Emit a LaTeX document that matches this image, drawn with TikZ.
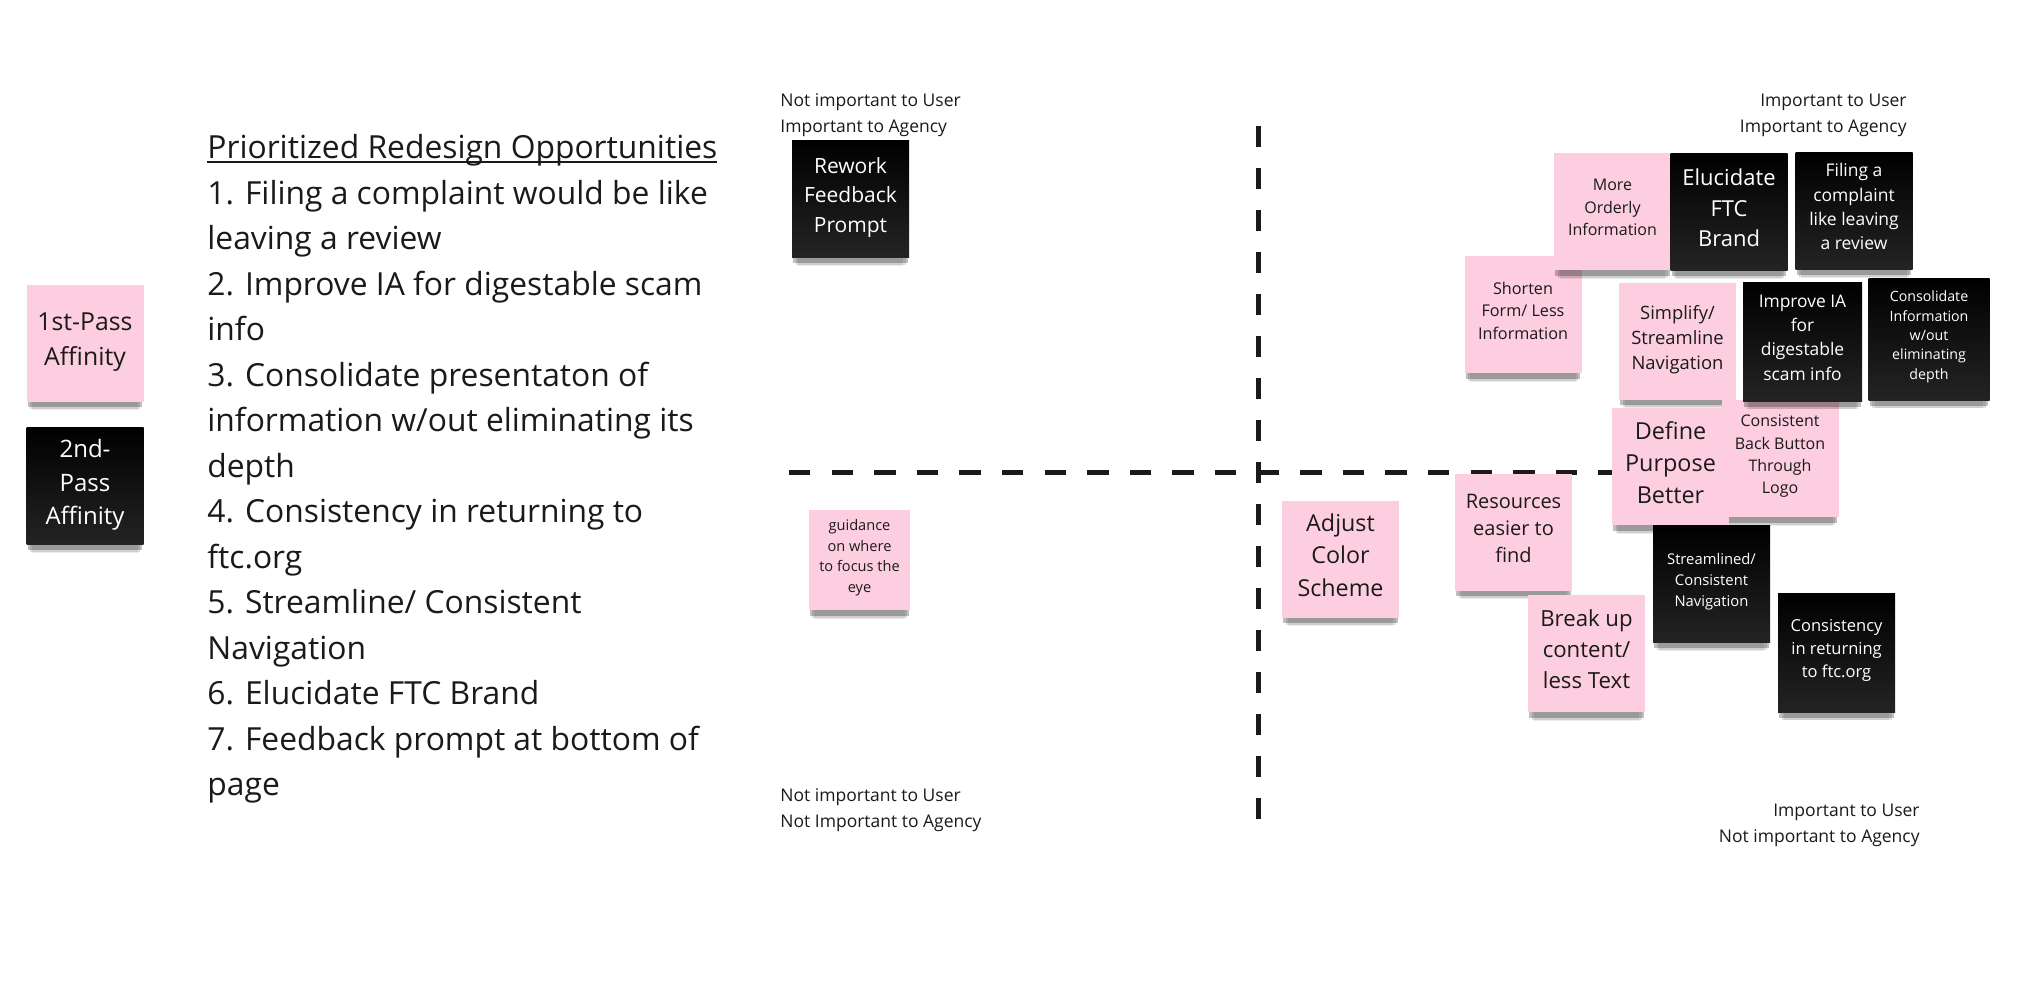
\documentclass[tikz,border=0pt]{standalone}
\usepackage{fontspec}
\setmainfont{Open Sans}
\usetikzlibrary{shadows}
\definecolor{stickypink}{RGB}{253,206,224}
\definecolor{inkgray}{RGB}{26,26,26}
\newcommand{\titleline}[1]{\sbox0{#1}\rlap{\rule[-2.3pt]{\wd0}{1.1pt}}\usebox0}
\tikzset{
  note/.style={minimum width=58.5pt, minimum height=58.5pt, inner sep=0pt, align=center, text depth=0.4em,
    drop shadow={shadow scale=0.9, shadow xshift=0pt, shadow yshift=-8pt, opacity=0.08, fill=black},
    drop shadow={shadow scale=0.94, shadow xshift=0pt, shadow yshift=-6pt, opacity=0.12, fill=black},
    drop shadow={shadow scale=0.98, shadow xshift=0pt, shadow yshift=-3.5pt, opacity=0.25, fill=black}},
  pinknote/.style={note, fill=stickypink, text=inkgray},
  blacknote/.style={note, top color=black, bottom color=black!86, text=white},
  quadlabel/.style={inner sep=0pt, text=inkgray, font=\fontsize{8.75pt}{13pt}\selectfont},
  axisline/.style={line width=2.5pt, draw=inkgray}
}
\begin{document}
\begin{tikzpicture}[x=0.5pt,y=-0.5pt]
  \fill[white] (0,0) rectangle (2038,980);
  \useasboundingbox (0,0) rectangle (2038,980);
  \node[anchor=north west, inner sep=0pt, align=left, text=inkgray,
    font=\fontsize{15.9pt}{22.75pt}\selectfont] (list) at (207,126.5)
    {\strut\titleline{Prioritized Redesign Opportunities}\\
     1. Filing a complaint would be like\\
     leaving a review\\
     2. Improve IA for digestable scam\\
     info\\
     3. Consolidate presentaton of\\
     information w/out eliminating its\\
     depth\\
     4. Consistency in returning to\\
     ftc.org\\
     5. Streamline/ Consistent\\
     Navigation\\
     6. Elucidate FTC Brand\\
     7. Feedback prompt at bottom of\\
     page};
  \node[pinknote, font=\fontsize{12.4pt}{17.5pt}\selectfont] (firstpass) at (85,343) {1st-Pass\\Affinity};
  \node[blacknote, font=\fontsize{12pt}{16.7pt}\selectfont] (secondpass) at (85,486) {2nd-\\Pass\\Affinity};
  \coordinate (vtop) at (1258.5,126);
  \coordinate (vbot) at (1258.5,822);
  \coordinate (hleft) at (789,472);
  \coordinate (hright) at (1640,472);
  \draw[axisline, dash pattern=on 10.5pt off 10.5pt] (vtop) -- (vbot);
  \draw[axisline, dash pattern=on 10.65pt off 10.65pt] (hleft) -- (hright);
  \node[quadlabel, anchor=north west, align=left] (notuserimpagency) at (780,87.5) {\strut Not important to User\\Important to Agency};
  \node[quadlabel, anchor=north west, align=left] (notusernotagency) at (780,783) {\strut Not important to User\\Not Important to Agency};
  \node[quadlabel, anchor=north east, align=right] (userimpagency) at (1907,87.5) {\strut Important to User\\Important to Agency};
  \node[quadlabel, anchor=north east, align=right] (usernotagency) at (1920,798) {\strut Important to User\\Not important to Agency};
  \node[blacknote, font=\fontsize{10.5pt}{14.8pt}\selectfont] (rework) at (850.5,199) {Rework\\Feedback\\Prompt};
  \node[pinknote, minimum width=50.5pt, minimum height=50pt, font=\fontsize{7.3pt}{10.35pt}\selectfont] (guidance) at (859.5,560) {guidance\\on where\\to focus the\\eye};
  \node[pinknote, font=\fontsize{8.1pt}{11.25pt}\selectfont] (shorten) at (1523,314.5) {Shorten\\Form/ Less\\Information};
  \node[pinknote, font=\fontsize{8pt}{11.25pt}\selectfont] (orderly) at (1612.5,211.5) {More\\Orderly\\Information};
  \node[blacknote, font=\fontsize{11pt}{15.25pt}\selectfont] (elucidate) at (1729,212) {Elucidate\\FTC\\Brand};
  \node[blacknote, font=\fontsize{8.75pt}{12.1pt}\selectfont] (filing) at (1854,210.5) {Filing a\\complaint\\like leaving\\a review};
  \node[pinknote, font=\fontsize{9.2pt}{12.5pt}\selectfont] (simplify) at (1677.5,341) {Simplify/\\Streamline\\Navigation};
  \node[pinknote, font=\fontsize{8pt}{11.2pt}\selectfont] (backbutton) at (1780,458.5) {Consistent\\Back Button\\Through\\Logo};
  \node[blacknote, minimum width=59.5pt, minimum height=59.5pt, font=\fontsize{8.7pt}{12.2pt}\selectfont] (improve) at (1802.5,341.5) {Improve IA\\for\\digestable\\scam info};
  \node[blacknote, minimum width=60.5pt, minimum height=61pt, font=\fontsize{7.1pt}{9.7pt}\selectfont] (consolidate) at (1929,339) {Consolidate\\Information\\w/out\\eliminating\\depth};
  \node[pinknote, font=\fontsize{11.7pt}{16pt}\selectfont] (define) at (1670.5,466.5) {Define\\Purpose\\Better};
  \node[pinknote, font=\fontsize{11.65pt}{16.25pt}\selectfont] (adjust) at (1340.5,559) {Adjust\\Color\\Scheme};
  \node[pinknote, font=\fontsize{10pt}{13.5pt}\selectfont] (resources) at (1513.5,532) {Resources\\easier to\\find};
  \node[pinknote, font=\fontsize{11.1pt}{15.5pt}\selectfont] (breakup) at (1586.5,653.5) {Break up\\content/\\less Text};
  \node[blacknote, font=\fontsize{7.4pt}{10.5pt}\selectfont] (streamlined) at (1711.5,583.5) {Streamlined/\\Consistent\\Navigation};
  \node[blacknote, minimum height=59.5pt, font=\fontsize{8.25pt}{11.4pt}\selectfont] (ftcorg) at (1836.5,652.5) {Consistency\\in returning\\to ftc.org};
\end{tikzpicture}
\end{document}
